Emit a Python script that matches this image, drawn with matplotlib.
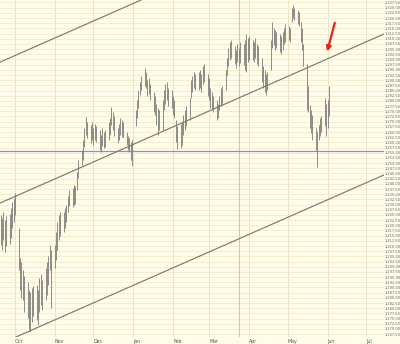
import matplotlib
matplotlib.use("Agg")
import matplotlib.pyplot as plt
import matplotlib.dates as mdates
import numpy as np
import pandas as pd

# daily high / low, one row per week (Mon..Fri)
highs = [
    1224.9, 1223.5, 1226.4, 1222.5, 1224.5,
    1225.4, 1228.3, 1231.2, 1233.1, 1235.6,
    1218.7, 1204.2, 1202.3, 1198.4, 1195.5,
    1192.6, 1188.8, 1187.8, 1189.7, 1190.7,
    1191.2, 1188.8, 1194.5, 1196.5, 1193.6,
    1199.4, 1202.3, 1205.2, 1210.5, 1208.1,
    1210.5, 1216.7, 1221.6, 1224.9, 1226.4,
    1226.4, 1228.3, 1229.8, 1234.1, 1237.0,
    1238.0, 1239.4, 1238.9, 1245.7, 1251.5,
    1256.3, 1261.1, 1266.9, 1272.2, 1269.8,
    1268.4, 1269.8, 1266.9, 1268.9, 1267.9,
    1266.0, 1263.5, 1266.9, 1265.0, 1266.0,
    1269.8, 1271.8, 1277.1, 1274.6, 1272.7,
    1266.9, 1268.9, 1271.8, 1270.8, 1269.8,
    1265.0, 1263.1, 1262.1, 1260.2, 1261.1,
    1275.6, 1280.4, 1285.3, 1289.1, 1292.0,
    1295.9, 1294.0, 1290.1, 1291.1, 1288.2,
    1284.3, 1282.4, 1278.5, 1276.6, 1275.6,
    1280.4, 1285.3, 1288.2, 1289.1, 1286.2,
    1285.3, 1282.4, 1280.4, 1270.8, 1267.9,
    1268.9, 1269.8, 1273.2, 1275.6, 1277.5,
    1281.4, 1290.1, 1292.0, 1294.0, 1293.0,
    1294.0, 1294.9, 1293.0, 1296.9, 1297.8,
    1293.0, 1291.1, 1286.2, 1284.3, 1282.4,
    1280.4, 1278.5, 1282.4, 1286.2, 1287.2,
    1294.9, 1300.7, 1305.5, 1308.4, 1309.4,
    1306.5, 1304.6, 1307.5, 1305.5, 1308.4,
    1307.5, 1309.4, 1312.3, 1310.4, 1311.3,
    1309.4, 1308.4, 1310.4, 1307.5, 1306.5,
    1300.7, 1296.9, 1294.9, 1293.0, 1294.0,
    1309.4, 1318.1, 1315.2, 1314.2, 1313.3,
    1312.3, 1311.3, 1313.3, 1315.2, 1317.1,
    1316.2, 1315.2, 1324.8, 1326.3, 1324.8,
    1323.9, 1322.9, 1318.1, 1315.2, 1307.5,
    1297.8, 1287.2, 1278.0, 1275.6, 1273.2,
    1266.9, 1265.0, 1268.4, 1271.8, 1272.7,
    1281.4, 1278.5, 1280.4, 1287.2,
]
lows = [
    1210.5, 1208.1, 1212.9, 1207.1, 1210.0,
    1211.0, 1213.8, 1218.7, 1221.6, 1224.9,
    1198.4, 1188.8, 1184.9, 1183.9, 1178.1,
    1175.2, 1169.4, 1168.5, 1173.3, 1176.2,
    1174.3, 1171.9, 1178.1, 1181.5, 1179.1,
    1183.9, 1186.3, 1191.2, 1198.4, 1180.1,
    1199.4, 1203.2, 1208.1, 1212.9, 1214.8,
    1216.7, 1218.7, 1221.6, 1226.4, 1229.3,
    1228.8, 1229.8, 1230.2, 1237.0, 1242.8,
    1249.1, 1251.5, 1257.8, 1263.5, 1262.1,
    1259.7, 1261.1, 1258.7, 1261.1, 1260.2,
    1256.3, 1255.3, 1258.2, 1257.3, 1257.8,
    1261.1, 1263.5, 1268.4, 1266.0, 1263.1,
    1259.7, 1261.1, 1263.5, 1262.6, 1262.6,
    1258.7, 1256.3, 1255.3, 1251.5, 1248.6,
    1267.9, 1271.8, 1276.6, 1282.9, 1285.3,
    1287.2, 1286.2, 1282.4, 1283.3, 1280.4,
    1274.6, 1273.2, 1268.4, 1263.5, 1266.0,
    1266.0, 1275.6, 1278.5, 1280.4, 1277.5,
    1276.6, 1273.2, 1271.8, 1260.2, 1256.8,
    1257.3, 1258.7, 1263.5, 1266.0, 1267.9,
    1270.8, 1281.4, 1284.3, 1286.2, 1285.3,
    1285.3, 1286.2, 1284.3, 1288.2, 1289.1,
    1282.4, 1280.4, 1276.6, 1275.6, 1274.6,
    1270.8, 1271.8, 1275.6, 1277.5, 1278.5,
    1285.3, 1292.5, 1296.9, 1299.7, 1300.7,
    1297.8, 1295.9, 1298.8, 1296.9, 1298.3,
    1297.3, 1294.9, 1294.0, 1298.8, 1299.7,
    1299.7, 1298.8, 1300.7, 1297.8, 1296.9,
    1289.1, 1286.2, 1284.3, 1282.9, 1285.3,
    1294.9, 1305.5, 1307.0, 1304.6, 1305.5,
    1303.6, 1302.6, 1304.6, 1307.5, 1308.4,
    1309.4, 1308.4, 1318.1, 1320.0, 1319.0,
    1317.1, 1316.2, 1308.4, 1304.6, 1296.9,
    1275.6, 1274.6, 1266.9, 1264.5, 1261.1,
    1256.3, 1248.1, 1261.1, 1263.1, 1265.0,
    1267.9, 1263.1, 1266.9, 1272.7,
]
dates = pd.bdate_range("2010-09-20", periods=len(highs))

month_starts = pd.to_datetime(["2010-10-01", "2010-11-01", "2010-12-01", "2011-01-01",
                               "2011-02-01", "2011-03-01", "2011-04-01", "2011-05-01",
                               "2011-06-01", "2011-07-01"])
month_labels = ["Oct", "Nov", "Dec", "Jan", "Feb", "Mar", "Apr", "May", "Jun", "Jul"]
price_ticks = np.arange(1167.5, 1328.0, 2.5)

# trend channel, two anchor dates each
channel_dates = ["2010-10-01", "2011-07-01"]
channel_top = [1301.9, 1376.5]
channel_mid = [1233.9, 1308.5]
channel_bottom = [1165.9, 1240.5]
support_level = 1256.0
marker_date = "2011-03-24"

bg = "#fffdea"
fig = plt.figure(figsize=(4, 3.44), dpi=100, facecolor=bg)
ax = fig.add_axes([0, 7 / 344, 384 / 400, 337 / 344])
ax.set_facecolor(bg)
ax.set_axisbelow(True)

ax.vlines(dates, lows, highs, color="#7a7a7a", lw=0.6, zorder=3)

d0, d1 = [mdates.date2num(pd.Timestamp(d)) for d in channel_dates]
for line in (channel_top, channel_mid, channel_bottom):
    ax.axline((d0, line[0]), (d1, line[1]), color="#7c7c6c", lw=0.85, zorder=4)

ax.axhline(support_level, color="#8a8aee", lw=0.9, zorder=2)
ax.axvline(pd.Timestamp(marker_date), color="#cfcab0", lw=0.8, zorder=1)

ax.annotate("", xy=(mdates.date2num(pd.Timestamp("2011-05-31 05:00")), 1302.5),
            xytext=(mdates.date2num(pd.Timestamp("2011-06-07 05:00")), 1319.0),
            arrowprops=dict(arrowstyle="-|>", color="#e3241b", lw=1.6, mutation_scale=7),
            zorder=5)

ax.set_xlim(pd.Timestamp("2010-09-19 08:00"), pd.Timestamp("2011-07-14 22:00"))
ax.set_ylim(1166.1, 1328.7)

ax.set_yticks(price_ticks)
ax.set_yticklabels([f"{v:,.2f}" for v in price_ticks])
ax.yaxis.tick_right()
ax.set_xticks(month_starts)
ax.set_xticklabels(month_labels)
for lbl in ax.get_xticklabels():
    lbl.set_ha("left")

ax.tick_params(axis="y", length=0, labelsize=2.6, colors="#666666", pad=0.6)
ax.tick_params(axis="x", length=0, labelsize=3.4, colors="#555555", pad=1.5)
ax.grid(axis="y", color="#f2ecca", lw=0.6)
ax.grid(axis="x", color="#e6dfbe", lw=0.6)
for s in ax.spines.values():
    s.set_visible(False)

fig.savefig("out.png", dpi=100, facecolor=bg)
